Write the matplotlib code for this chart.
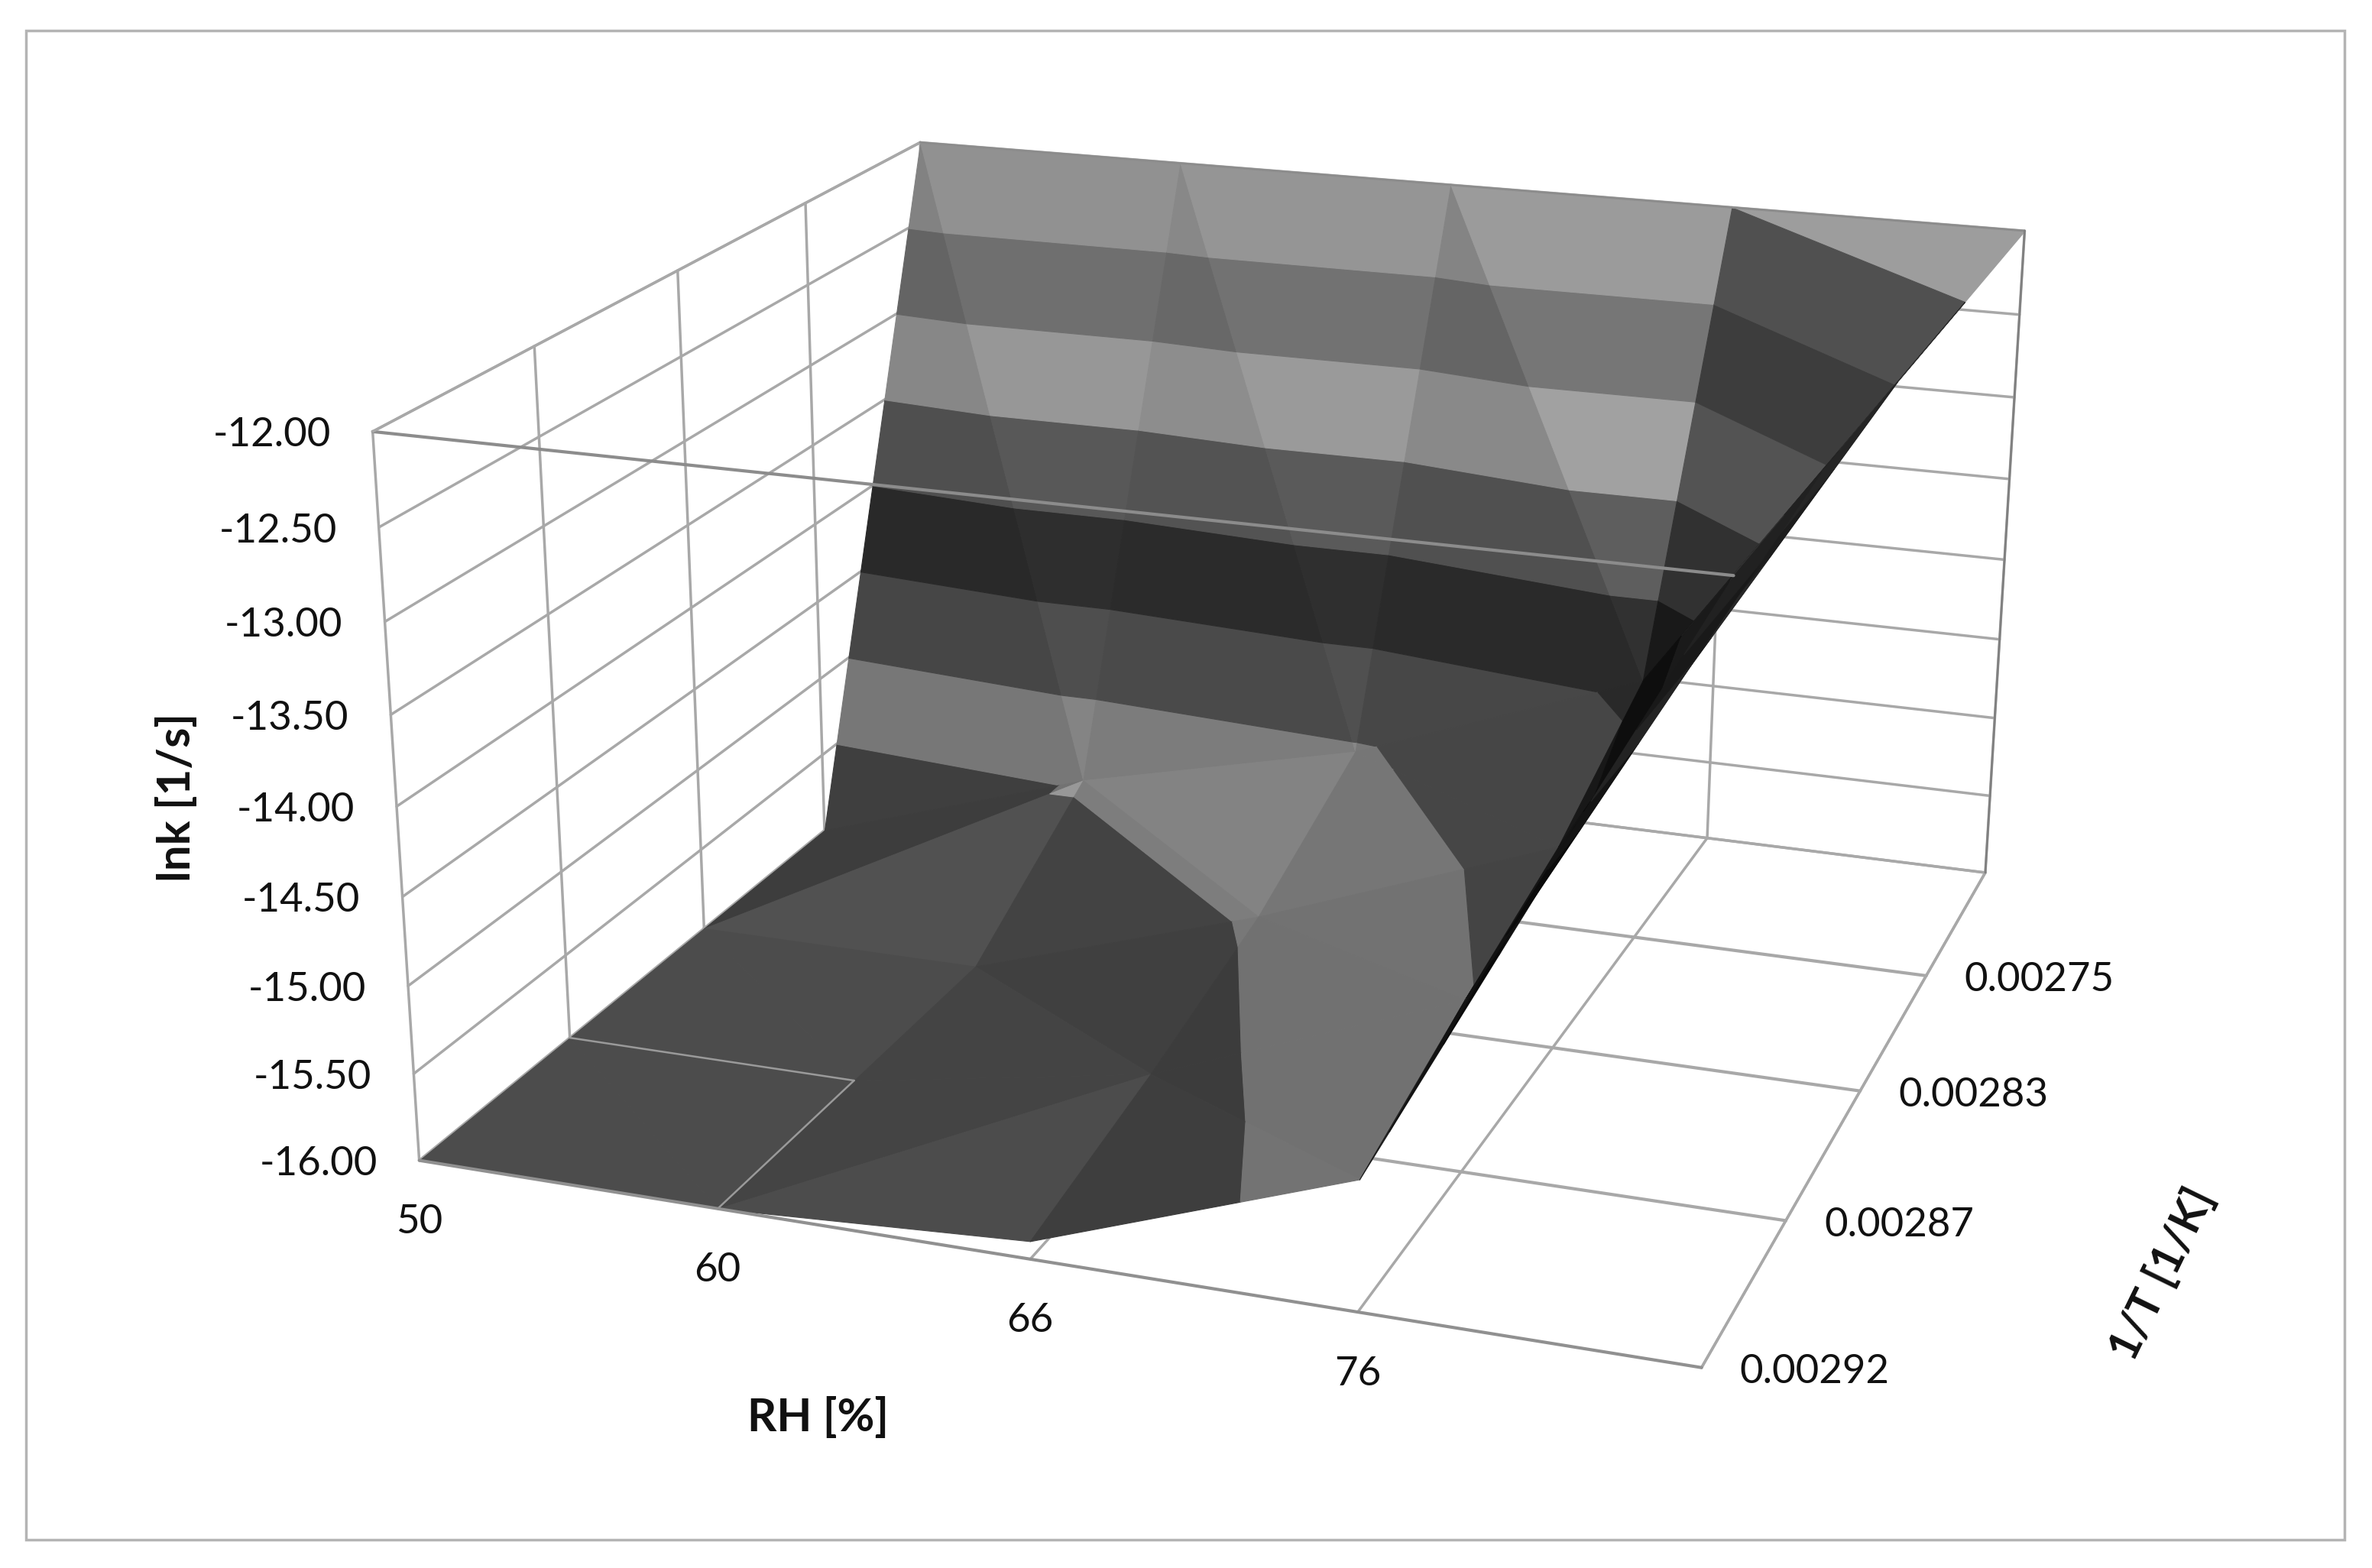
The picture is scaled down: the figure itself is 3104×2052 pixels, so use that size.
#!/usr/bin/env python3
# Excel style 3D surface, lnk against RH and 1/T
import numpy as np
import matplotlib
matplotlib.use("Agg")
import matplotlib.pyplot as plt
from matplotlib.patches import Rectangle
from mpl_toolkits.mplot3d.art3d import Poly3DCollection

W, H = 3104, 2052

rh_labels = ["50", "60", "66", "76"]
t_labels = ["0.00292", "0.00287", "0.00283", "0.00275"]
z_ticks = [-16.0, -15.5, -15.0, -14.5, -14.0, -13.5, -13.0, -12.5, -12.0]

# lnk per 1/T row (front to back), per RH column; the last row and column
# are the empty cells of the sheet, they end up clipped at the axis top
row_00292 = [-16.0, -16.0, -15.9, -15.28, -12.0]
row_00287 = [-16.0, -16.0, -15.7, -15.02, -12.0]
row_00283 = [-16.0, -16.0, -15.45, -14.8, -12.0]
row_00275 = [-16.0, -15.45, -15.05, -14.4, -12.0]
row_blank = [-12.0, -12.0, -12.0, -12.0, -12.0]
Z = np.array([row_00292, row_00287, row_00283, row_00275, row_blank])

# cells (col, row) that Excel split along the other diagonal
flipped_cells = [(1, 0), (0, 2)]

# grey of each 0.5 band, low to high
band_grey = [80, 150, 89, 52, 100, 171, 126, 165]

# camera: (col, row, z) -> reference pixel
cam_world = [(0, 0, -16), (4, 0, -16), (4, 4, -16), (0, 4, -16),
             (0, 0, -12), (4, 0, -12), (4, 4, -12), (0, 4, -12),
             (1, 0, -16), (2, 0, -16), (3, 0, -16),
             (0, 1, -16), (0, 2, -16), (0, 3, -16),
             (4, 1, -16), (4, 2, -16), (4, 3, -16)]
cam_pixel = [(547, 1519), (2227, 1791), (2599, 1138), (1221, 975),
             (489, 564), (2268, 755), (2650, 302), (1203, 186),
             (939, 1582), (1349, 1646), (1778, 1718),
             (744, 1357), (923, 1212), (1080, 1087),
             (2336, 1597), (2434, 1429), (2519, 1278)]


def fit_camera(world, pixel):
    rows = []
    for (x, y, z), (u, v) in zip(world, pixel):
        u, v = u / 1000.0, v / 1000.0
        rows.append([x, y, z, 1, 0, 0, 0, 0, -u * x, -u * y, -u * z, -u])
        rows.append([0, 0, 0, 0, x, y, z, 1, -v * x, -v * y, -v * z, -v])
    p = np.linalg.svd(np.array(rows, float))[2][-1].reshape(3, 4)
    if p[2] @ [2, 2, -14, 1] < 0:
        p = -p
    return np.diag([1000.0, 1000.0, 1.0]) @ p


def clip_band(poly, lo, hi):
    for level, sign in ((lo, 1), (hi, -1)):
        out = []
        for i in range(len(poly)):
            a, b = poly[i], poly[(i + 1) % len(poly)]
            da, db = sign * (a[2] - level), sign * (b[2] - level)
            if da >= 0:
                out.append(a)
            if da * db < 0:
                out.append(a + (b - a) * da / (da - db))
        poly = out
        if len(poly) < 3:
            return []
    return poly


def shade(tri):
    s = np.array([0.25, 0.25, 0.15])
    n = np.cross((tri[1] - tri[0]) * s, (tri[2] - tri[0]) * s)
    n = n / np.linalg.norm(n)
    if n[2] < 0:
        n = -n
    return 0.35 + n @ np.array([0.5, -0.3, 0.6])


P = fit_camera(cam_world, cam_pixel)
cam_x = np.linalg.svd(P)[2][-1]
cam_x = cam_x[0] / cam_x[3]


def depth(tri):
    return P[2] @ np.append(tri.mean(axis=0), 1.0)


def to_pixel(x, y, z):
    q = P @ [x, y, z, 1.0]
    return q[0] / q[2], q[1] / q[2]


fig = plt.figure(figsize=(W / 100, H / 100), dpi=100)
pad = (W - H) / 2
ax = fig.add_axes([0, -pad / H, 1, W / H], projection="3d")
ax.set_axis_off()
ax.patch.set_visible(False)
ax.computed_zorder = False

# pixels -> the 2d limits of the 3d axes
x0, x1 = ax.viewLim.intervalx
y0, y1 = ax.viewLim.intervaly
S = np.array([[(x1 - x0) / W, 0, x0],
              [0, -(y1 - y0) / W, y0 + (H + pad) * (y1 - y0) / W],
              [0, 0, 1]])
P2 = S @ P
M = np.array([P2[0], P2[1], [0, 0, 0, -1], P2[2]])
ax.get_proj = lambda: M

grid = "#a8a8a8"


def line(a, b, color=grid, lw=2.5, z=1):
    ax.plot([a[0], b[0]], [a[1], b[1]], [a[2], b[2]], color=color, lw=lw,
            zorder=z, solid_capstyle="round")


# left and back wall, floor
for zv in z_ticks:
    line((0, 0, zv), (0, 4, zv))
    line((0, 4, zv), (4, 4, zv))
for r in [1, 2, 3, 4]:
    line((0, r, -16), (0, r, -12))
for c in [1, 2, 3, 4]:
    line((c, 4, -16), (c, 4, -12))
    line((c, 0, -16), (c, 4, -16))
for r in [1, 2, 3]:
    line((0, r, -16), (4, r, -16), lw=3)
line((0, 0, -16), (0, 0, -12))
line((4, 0, -16), (4, 4, -16))
line((0, 4, -16), (4, 4, -16))

# surface, back to front
nr, nc = Z.shape
order = 10
for r in range(nr - 2, -1, -1):
    cols = sorted(range(nc - 1), key=lambda c: -abs(c + 0.5 - cam_x))
    for c in cols:
        p00 = np.array([c, r, Z[r, c]], float)
        p10 = np.array([c + 1, r, Z[r, c + 1]], float)
        p01 = np.array([c, r + 1, Z[r + 1, c]], float)
        p11 = np.array([c + 1, r + 1, Z[r + 1, c + 1]], float)
        if (c, r) in flipped_cells:
            tris = [np.array([p00, p10, p11]), np.array([p00, p11, p01])]
        else:
            tris = [np.array([p00, p10, p01]), np.array([p10, p11, p01])]
        for tri in sorted(tris, key=depth, reverse=True):
            k = shade(tri)
            for b, base in enumerate(band_grey):
                poly = clip_band(list(tri), -16 + b * 0.5, -15.5 + b * 0.5)
                if not poly:
                    continue
                g = np.clip(base * k, 0, 255) / 255.0
                order += 1
                ax.add_collection3d(Poly3DCollection(
                    [np.array(poly)], facecolors=[(g, g, g)],
                    edgecolors=[(g, g, g)], linewidths=0.8, zorder=order))

# lines that show over the surface
top = order + 1
line((0, 1, -16), (1, 1, -16), color="#9a9a9a", lw=1.8, z=top)
line((1, 0, -16), (1, 1, -16), color="#9a9a9a", lw=1.8, z=top)
line((0, 0, -16), (4, 0, -16), color="#909090", lw=3, z=top)
line((0, 0, -12), (4, 0, -12), color="#8c8c8c", lw=3, z=top)
line((0, 0, -12), (0, 4, -12), z=top)
line((0, 4, -12), (4, 4, -12), color="#8c8c8c", lw=2, z=top)
line((4, 4, -16), (4, 4, -12), color="#808080", lw=2, z=top)


def tick_text(world, dx, dy, s, ha):
    px, py = to_pixel(*world)
    fig.text((px + dx) / W, 1 - (py + dy) / H, s, ha=ha, va="center",
             family="Lato", fontsize=38, color="#111111")


# tick labels
for zv in z_ticks:
    tick_text((0, 0, zv), -55, 5, "%.2f" % zv, "right")
for c, s in enumerate(rh_labels):
    tick_text((c, 0, -16), 0, 81, s, "center")
for r, s in enumerate(t_labels):
    tick_text((4, r, -16), 50, 6, s, "left")

title_font = dict(family="Lato", fontweight="bold", color="#111111",
                  ha="center", va="center")
fig.text(232 / W, 1 - 1043 / H, "lnk [1/s]", rotation=90, fontsize=43, **title_font)
fig.text(1071 / W, 1 - 1855 / H, "RH [%]", fontsize=43, **title_font)
fig.text(2830 / W, 1 - 1668 / H, "1/T [1/K]", rotation=64, fontsize=41, **title_font)

fig.add_artist(Rectangle((34 / W, 1 - 2015 / H), 3034 / W, 1975 / H, fill=False,
                         edgecolor="#b4b4b4", lw=2.5, transform=fig.transFigure))

fig.savefig("out.png", dpi=100)
